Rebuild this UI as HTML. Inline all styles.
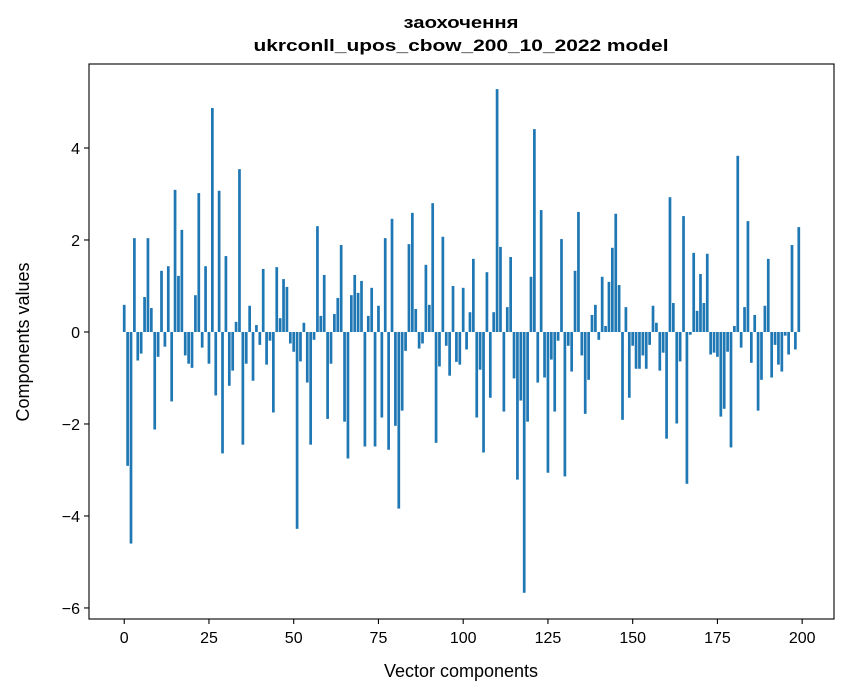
<!DOCTYPE html>
<html><head><meta charset="utf-8"><style>
html,body{margin:0;padding:0;background:#fff;}
svg{display:block;font-family:"Liberation Sans","DejaVu Sans",sans-serif;}
</style></head><body>
<svg id="chart" width="847" height="696" viewBox="0 0 847 696" xmlns="http://www.w3.org/2000/svg">
<rect x="0" y="0" width="847" height="696" fill="#fff"/>
<text x="461" y="28" text-anchor="middle" font-size="17" font-weight="bold" textLength="115" lengthAdjust="spacingAndGlyphs">заохочення</text>
<text x="461" y="51" text-anchor="middle" font-size="17" font-weight="bold" textLength="415" lengthAdjust="spacingAndGlyphs">ukrconll_upos_cbow_200_10_2022 model</text>
<g id="bars"></g>
<g id="xticks"></g>
<g id="yticks"></g>
<rect x="89" y="64" width="745" height="555" fill="none" stroke="#000" stroke-width="1.1"/>
<text x="461" y="677" text-anchor="middle" font-size="18">Vector components</text>
<text transform="translate(29,342) rotate(-90)" text-anchor="middle" font-size="18">Components values</text>
</svg>
<script>
const values = [
0.59,-2.91,-4.6,2.04,-0.62,-0.47,0.76,2.04,0.52,-2.12,
-0.54,1.33,-0.32,1.43,-1.51,3.09,1.22,2.22,-0.51,-0.69,
-0.78,0.8,3.02,-0.34,1.43,-0.69,4.87,-1.38,3.07,-2.64,
1.65,-1.17,-0.84,0.22,3.54,-2.45,-0.69,0.57,-1.06,0.15,
-0.28,1.37,-0.71,-0.19,-1.75,1.41,0.3,1.15,0.98,-0.25,
-0.43,-4.28,-0.64,0.2,-1.1,-2.45,-0.17,2.3,0.35,1.24,
-1.89,-0.69,0.39,0.74,1.89,-1.95,-2.75,0.8,1.24,0.85,
1.11,-2.49,0.35,0.96,-2.49,0.57,-1.86,2.04,-2.56,2.46,
-2.04,-3.84,-1.71,-0.41,1.91,2.59,0.5,-0.36,-0.25,1.46,
0.59,2.8,-2.41,-0.75,2.07,-0.3,-0.95,1.0,-0.65,-0.71,
0.96,-0.38,0.43,1.59,-1.86,-0.82,-2.62,1.3,-1.43,0.43,
5.28,1.85,-1.73,0.54,1.63,-1.01,-3.21,-1.49,-5.67,-1.95,
1.2,4.41,-1.1,2.65,-0.99,-3.06,-0.6,-1.73,-0.19,2.02,
-3.14,-0.3,-0.86,1.33,2.61,-0.51,-1.78,-1.04,0.37,0.59,
-0.17,1.2,0.13,1.09,1.83,2.57,1.02,-1.91,0.54,-1.43,
-0.3,-0.8,-0.8,-0.51,-0.8,-0.28,0.57,0.2,-0.84,-0.45,
-2.32,2.93,0.63,-1.99,-0.64,2.52,-3.3,-0.06,1.72,0.46,
1.26,0.63,1.7,-0.49,-0.45,-0.54,-1.84,-1.67,-0.43,-2.51,
0.13,3.83,-0.34,0.54,2.41,-0.67,0.37,-1.71,-1.04,0.57,
1.59,-0.99,-0.28,-0.71,-0.86,-0.08,-0.49,1.89,-0.38,2.28
];
const xTickValues = [0,25,50,75,100,125,150,175,200];
const yTickValues = [-6,-4,-2,0,2,4];
const yTickLabels = ["\u22126","\u22124","\u22122","0","2","4"];

const PL=89, PR=834, PT=64, PB=619;
const XMIN=-10.39, XMAX=209.39, YMIN=-6.24, YMAX=5.826;
function xs(v){return PL+(v-XMIN)/(XMAX-XMIN)*(PR-PL);}
function ys(v){return PB-(v-YMIN)/(YMAX-YMIN)*(PB-PT);}
const NS="http://www.w3.org/2000/svg";
const bars=document.getElementById('bars');
values.forEach((v,i)=>{
  const r=document.createElementNS(NS,'rect');
  const x0=xs(i-0.4), x1=xs(i+0.4);
  const y0=ys(Math.max(v,0)), y1=ys(Math.min(v,0));
  r.setAttribute('x',x0);r.setAttribute('width',x1-x0);
  r.setAttribute('y',y0);r.setAttribute('height',Math.max(y1-y0,0.01));
  r.setAttribute('fill','#1f77b4');
  
  
  bars.appendChild(r);
});
const xt=document.getElementById('xticks');
xTickValues.forEach(v=>{
  const x=xs(v);
  const l=document.createElementNS(NS,'line');
  l.setAttribute('x1',x);l.setAttribute('x2',x);l.setAttribute('y1',PB);l.setAttribute('y2',PB+5);
  l.setAttribute('stroke','#000');l.setAttribute('stroke-width','1.1');
  
  
  xt.appendChild(l);
  const t=document.createElementNS(NS,'text');
  t.setAttribute('x',x);t.setAttribute('y',PB+24);t.setAttribute('text-anchor','middle');t.setAttribute('font-size','16');
  t.textContent=String(v);
  
  
  xt.appendChild(t);
});
const yt=document.getElementById('yticks');
yTickValues.forEach((v,i)=>{
  const y=ys(v);
  const l=document.createElementNS(NS,'line');
  l.setAttribute('x1',PL-5);l.setAttribute('x2',PL);l.setAttribute('y1',y);l.setAttribute('y2',y);
  l.setAttribute('stroke','#000');l.setAttribute('stroke-width','1.1');
  
  
  yt.appendChild(l);
  const t=document.createElementNS(NS,'text');
  t.setAttribute('x',PL-9);t.setAttribute('y',y+6);t.setAttribute('text-anchor','end');t.setAttribute('font-size','16');
  t.textContent=yTickLabels[i];
  
  
  yt.appendChild(t);
});
</script>
</body></html>
